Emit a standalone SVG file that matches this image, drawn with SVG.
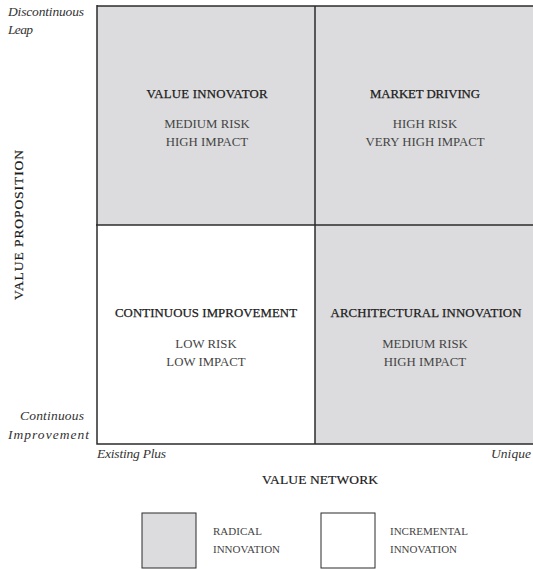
<svg xmlns="http://www.w3.org/2000/svg" width="533" height="569" viewBox="0 0 533 569">
  <style>
    .axis-end { font-family: "Liberation Serif", serif; font-style: italic; font-size: 13.5px; fill: #333; }
    .title { font-family: "Liberation Serif", serif; font-size: 12.8px; fill: #1a1a1a; text-anchor: middle; stroke: #1a1a1a; stroke-width: 0.25; }
    .sub { font-family: "Liberation Serif", serif; font-size: 12.8px; fill: #444; text-anchor: middle; }
    .axis { font-family: "Liberation Serif", serif; font-size: 13.5px; fill: #1a1a1a; text-anchor: middle; stroke: #1a1a1a; stroke-width: 0.2; }
    .legend { font-family: "Liberation Serif", serif; font-size: 11px; fill: #444; }
    .radical { fill: #dcdcde; }
    .incremental { fill: #ffffff; }
    .edge { stroke: #2b2b2b; stroke-width: 1.5; fill: none; }
    .key { stroke: #2b2b2b; stroke-width: 1; }
  </style>

  <rect width="533" height="569" fill="#ffffff"/>

  <!-- quadrants -->
  <g id="value-innovator">
    <rect class="radical" x="97" y="6" width="218" height="219"/>
    <text class="title" x="207" y="98" textLength="121">VALUE INNOVATOR</text>
    <text class="sub" x="207" y="128">MEDIUM RISK</text>
    <text class="sub" x="207" y="146">HIGH IMPACT</text>
  </g>
  <g id="market-driving">
    <rect class="radical" x="315" y="6" width="218" height="219"/>
    <text class="title" x="425" y="98" textLength="110">MARKET DRIVING</text>
    <text class="sub" x="425" y="128">HIGH RISK</text>
    <text class="sub" x="425" y="146">VERY HIGH IMPACT</text>
  </g>
  <g id="continuous-improvement">
    <rect class="incremental" x="97" y="225" width="218" height="219"/>
    <text class="title" x="206" y="317" textLength="182">CONTINUOUS IMPROVEMENT</text>
    <text class="sub" x="206" y="348">LOW RISK</text>
    <text class="sub" x="206" y="366">LOW IMPACT</text>
  </g>
  <g id="architectural-innovation">
    <rect class="radical" x="315" y="225" width="218" height="219"/>
    <text class="title" x="426" y="317" textLength="191">ARCHITECTURAL INNOVATION</text>
    <text class="sub" x="425" y="348">MEDIUM RISK</text>
    <text class="sub" x="425" y="366">HIGH IMPACT</text>
  </g>

  <!-- grid lines -->
  <g id="connectors">
    <path class="edge" d="M97 6 H533"/>
    <path class="edge" d="M97 5 V444 H533"/>
    <path class="edge" d="M315 6 V444"/>
    <path class="edge" d="M96 225 H533"/>
  </g>

  <!-- axis labels -->
  <g id="axes">
    <text class="axis-end" x="8" y="16" textLength="76">Discontinuous</text>
    <text class="axis-end" x="8" y="34" textLength="25">Leap</text>
    <text class="axis-end" x="20" y="420" textLength="64">Continuous</text>
    <text class="axis-end" x="8" y="439" textLength="81">Improvement</text>
    <text class="axis-end" x="97" y="458" textLength="69">Existing Plus</text>
    <text class="axis-end" x="491" y="458" textLength="40">Unique</text>
    <text class="axis" x="320" y="484" textLength="116">VALUE NETWORK</text>
    <text class="axis" transform="translate(23 225) rotate(-90)" textLength="150">VALUE PROPOSITION</text>
  </g>

  <!-- legend -->
  <g id="legend-radical">
    <rect class="radical key" x="142" y="513" width="54" height="55"/>
    <text class="legend" x="213" y="535">RADICAL</text>
    <text class="legend" x="213" y="553">INNOVATION</text>
  </g>
  <g id="legend-incremental">
    <rect class="incremental key" x="321" y="513" width="54" height="55"/>
    <text class="legend" x="390" y="535">INCREMENTAL</text>
    <text class="legend" x="390" y="553">INNOVATION</text>
  </g>
</svg>
